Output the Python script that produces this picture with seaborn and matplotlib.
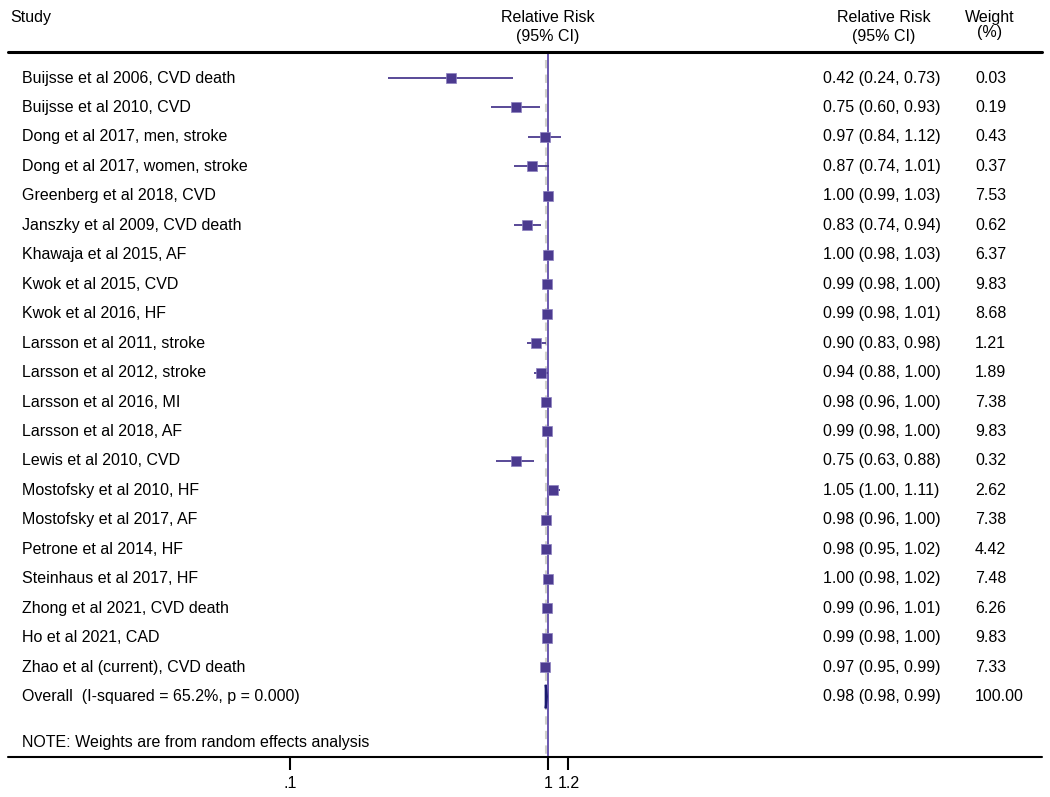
import numpy as np
import pandas as pd
import matplotlib
matplotlib.use('Agg')
import matplotlib.pyplot as plt
import seaborn as sns

# --- dados do forest plot ---
estudos = [
    'Buijsse et al 2006, CVD death', 'Buijsse et al 2010, CVD',
    'Dong et al 2017, men, stroke', 'Dong et al 2017, women, stroke',
    'Greenberg et al 2018, CVD', 'Janszky et al 2009, CVD death',
    'Khawaja et al 2015, AF', 'Kwok et al 2015, CVD', 'Kwok et al 2016, HF',
    'Larsson et al 2011, stroke', 'Larsson et al 2012, stroke',
    'Larsson et al 2016, MI', 'Larsson et al 2018, AF', 'Lewis et al 2010, CVD',
    'Mostofsky et al 2010, HF', 'Mostofsky et al 2017, AF',
    'Petrone et al 2014, HF', 'Steinhaus et al 2017, HF',
    'Zhong et al 2021, CVD death', 'Ho et al 2021, CAD',
    'Zhao et al (current), CVD death',
]
rr = [0.42, 0.75, 0.97, 0.87, 1.00, 0.83, 1.00, 0.99, 0.99, 0.90, 0.94,
      0.98, 0.99, 0.75, 1.05, 0.98, 0.98, 1.00, 0.99, 0.99, 0.97]
ic_inf = [0.24, 0.60, 0.84, 0.74, 0.99, 0.74, 0.98, 0.98, 0.98, 0.83, 0.88,
          0.96, 0.98, 0.63, 1.00, 0.96, 0.95, 0.98, 0.96, 0.98, 0.95]
ic_sup = [0.73, 0.93, 1.12, 1.01, 1.03, 0.94, 1.03, 1.00, 1.01, 0.98, 1.00,
          1.00, 1.00, 0.88, 1.11, 1.00, 1.02, 1.02, 1.01, 1.00, 0.99]
pesos = [0.03, 0.19, 0.43, 0.37, 7.53, 0.62, 6.37, 9.83, 8.68, 1.21, 1.89,
         7.38, 9.83, 0.32, 2.62, 7.38, 4.42, 7.48, 6.26, 9.83, 7.33]

geral_rr, geral_inf, geral_sup = 0.98, 0.98, 0.99
geral_label = 'Overall  (I-squared = 65.2%, p = 0.000)'
ticks = [0.1, 1, 1.2]
tick_labels = ['.1', '1', '1.2']

df = pd.DataFrame({'Estudo': estudos, 'RR': rr, 'Inf': ic_inf, 'Sup': ic_sup, 'Peso': pesos})
df['Linha'] = np.arange(len(df))

roxo = '#4B3A8F'
sns.set_theme(style='white')
plt.rcParams['font.family'] = ['Liberation Sans', 'DejaVu Sans']
plt.rcParams['text.color'] = 'black'

fig = plt.figure(figsize=(10.5, 7.97), dpi=100)
ax = fig.add_axes([0, 0, 1, 1])
ax.set_xscale('log')
ax.set_xlim(10 ** -2.124, 10 ** 1.946)
ax.set_ylim(24.41, -2.649)
ax.axis('off')

# linhas de referência
n = len(df)
ax.vlines(geral_rr, -0.6, 23.06, color='#d0d0c8', lw=1.5, linestyles=(0, (4, 3)), zorder=1)
ax.vlines(1, -0.883, 23.06, color='#6a58b0', lw=1.4, zorder=2)

# intervalos de confiança
ax.hlines(df['Linha'], df['Inf'], df['Sup'], color=roxo, lw=1.3, zorder=3)
sns.scatterplot(data=df, x='RR', y='Linha', marker='s', s=48, color=roxo,
                edgecolor='#8c80c0', linewidth=0.5, ax=ax, zorder=4, legend=False)
ax.axis('off')

# diamante geral
yd = n
ax.fill([geral_inf, geral_rr, geral_sup, geral_rr],
        [yd, yd - 0.4, yd, yd + 0.4], facecolor='white', edgecolor='#1a1a6e', lw=1.5, zorder=5)

fs = 11.5
tx = ax.get_yaxis_transform()  # x em fração, y em dados
for i, row in df.iterrows():
    ax.text(22 / 1050, row['Linha'], row['Estudo'], transform=tx, va='center', fontsize=fs)
    ax.text(823 / 1050, row['Linha'], f"{row['RR']:.2f} ({row['Inf']:.2f}, {row['Sup']:.2f})",
            transform=tx, va='center', fontsize=fs)
    ax.text(975 / 1050, row['Linha'], f"{row['Peso']:.2f}", transform=tx, va='center', fontsize=fs)

ax.text(22 / 1050, yd, geral_label, transform=tx, va='center', fontsize=fs)
ax.text(823 / 1050, yd, f"{geral_rr:.2f} ({geral_inf:.2f}, {geral_sup:.2f})",
        transform=tx, va='center', fontsize=fs)
ax.text(975 / 1050, yd, '100.00', transform=tx, va='center', fontsize=fs)
ax.text(22 / 1050, 22.55, 'NOTE: Weights are from random effects analysis',
        transform=tx, va='center', fontsize=fs)

# cabeçalho
ax.text(10 / 1050, -2.07, 'Study', transform=tx, va='center', fontsize=fs)
ax.text(548 / 1050, -2.07, 'Relative Risk', transform=tx, va='center', ha='center', fontsize=fs)
ax.text(548 / 1050, -1.4, '(95% CI)', transform=tx, va='center', ha='center', fontsize=fs)
ax.text(884 / 1050, -2.07, 'Relative Risk', transform=tx, va='center', ha='center', fontsize=fs)
ax.text(884 / 1050, -1.4, '(95% CI)', transform=tx, va='center', ha='center', fontsize=fs)
ax.text(990 / 1050, -2.07, 'Weight', transform=tx, va='center', ha='center', fontsize=fs)
ax.text(990 / 1050, -1.55, '(%)', transform=tx, va='center', ha='center', fontsize=fs)
ax.plot([8 / 1050, 1042 / 1050], [-0.883, -0.883], transform=tx, color='black', lw=2.2)

# eixo x
ax.plot([8 / 1050, 1042 / 1050], [23.06, 23.06], transform=tx, color='black', lw=1.5)
for t, lab in zip(ticks, tick_labels):
    ax.vlines(t, 23.06, 23.5, color='black', lw=1.5)
    ax.text(t, 23.95, lab, ha='center', va='center', fontsize=fs)

plt.savefig('out.png', dpi=100)
